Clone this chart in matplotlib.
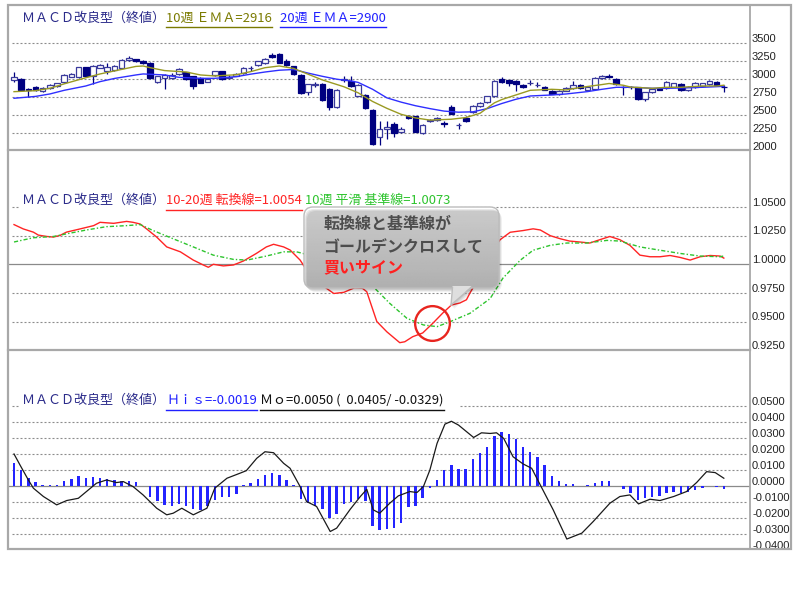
import numpy as np
import matplotlib
matplotlib.use("Agg")
import matplotlib.pyplot as plt
from matplotlib.patches import FancyBboxPatch, Polygon, Rectangle
from matplotlib.transforms import offset_copy

plt.rcParams['font.family'] = ['Noto Sans CJK JP', 'DejaVu Sans']

# weekly candles (100 weeks)
opens = [2990, 3000, 2870, 2890, 2840, 2880, 2905, 2960, 3035, 3030,
         3165, 3040, 3160, 3115, 3130, 3155, 3262, 3275, 3255, 3230,
         2965, 3010, 3015, 3075, 3095, 3040, 3015, 2965, 3055, 3110,
         3020, 3045, 3085, 3150, 3195, 3225, 3340, 3350, 3260, 3180,
         3060, 2820, 2920, 2930, 2870, 2615, 2995, 2980, 2770, 2780,
         2570, 2195, 2310, 2370, 2270, 2485, 2480, 2245, 2415, 2430,
         2385, 2615, 2355, 2460, 2545, 2620, 2680, 2760, 3005, 2985,
         2975, 2920, 2945, 2920, 2895, 2840, 2800, 2840, 2875, 2920,
         2845, 2860, 3010, 3050, 3000, 2890, 2895, 2890, 2725, 2815,
         2880, 2880, 2895, 2935, 2850, 2890, 2905, 2935, 2965, 2895]
highs = [3095, 3010, 2880, 2905, 2885, 2930, 2950, 3070, 3085, 3170,
         3175, 3195, 3210, 3220, 3195, 3280, 3320, 3285, 3265, 3240,
         3045, 3070, 3080, 3150, 3105, 3050, 3030, 3005, 3120, 3120,
         3060, 3080, 3165, 3185, 3255, 3295, 3365, 3365, 3275, 3190,
         3070, 2935, 2965, 2945, 2880, 2860, 3050, 3050, 2930, 2795,
         2580, 2420, 2420, 2400, 2330, 2500, 2490, 2370, 2440, 2475,
         2420, 2640, 2390, 2480, 2640, 2680, 2770, 2990, 3030, 2995,
         2990, 2935, 2985, 2960, 2905, 2850, 2850, 2885, 2975, 2930,
         2905, 3025, 3060, 3070, 3010, 2905, 2910, 2895, 2820, 2880,
         2895, 2970, 2950, 2945, 2905, 2960, 2950, 2990, 2975, 2920]
lows = [2960, 2840, 2755, 2830, 2825, 2870, 2895, 2950, 3030, 3020,
        3030, 2930, 3150, 3070, 3120, 3150, 3255, 3240, 3215, 3005,
        2945, 2870, 3005, 3065, 2990, 2865, 2940, 2955, 3045, 2990,
        3000, 3040, 3075, 3120, 3185, 3215, 3300, 3220, 3190, 3065,
        2800, 2780, 2895, 2700, 2570, 2600, 2960, 2890, 2760, 2580,
        2080, 2080, 2170, 2200, 2250, 2440, 2260, 2235, 2400, 2420,
        2330, 2510, 2300, 2400, 2530, 2610, 2670, 2750, 2950, 2905,
        2830, 2880, 2915, 2895, 2845, 2790, 2785, 2830, 2865, 2870,
        2835, 2850, 3000, 3020, 2925, 2780, 2870, 2710, 2695, 2805,
        2845, 2870, 2885, 2835, 2840, 2880, 2895, 2925, 2910, 2825]
closes = [3035, 2850, 2845, 2850, 2875, 2920, 2945, 3060, 3075, 3165,
          3040, 3185, 3195, 3165, 3180, 3270, 3295, 3250, 3225, 3015,
          3040, 3065, 3060, 3145, 3000, 2900, 2950, 3000, 3110, 3000,
          3025, 3070, 3160, 3160, 3250, 3285, 3305, 3225, 3195, 3070,
          2810, 2930, 2935, 2710, 2615, 2850, 3005, 2900, 2920, 2595,
          2090, 2310, 2330, 2255, 2310, 2455, 2270, 2360, 2430, 2465,
          2380, 2520, 2360, 2415, 2630, 2665, 2760, 2970, 2960, 2945,
          2935, 2890, 2950, 2925, 2855, 2795, 2835, 2875, 2920, 2880,
          2895, 3015, 3050, 3035, 2935, 2885, 2890, 2720, 2815, 2870,
          2850, 2960, 2940, 2845, 2895, 2950, 2940, 2970, 2920, 2890]

# 10-week / 20-week EMA (week, price)
ema10_x = [0, 3, 5, 7, 10, 12, 14, 17, 18, 19, 21, 24, 26, 28, 31, 33, 35, 37, 39, 41,
           43, 46, 48, 50, 52, 54, 56, 58, 61, 63, 65, 67, 68, 70, 72, 75, 77, 79, 82, 83,
           85, 86, 89, 91, 93, 96, 98, 99]
ema10_y = [2826, 2840, 2873, 2935, 3020, 3073, 3115, 3178, 3184, 3160, 3120, 3100, 3059, 3045,
           3062, 3105, 3160, 3184, 3150, 3070, 2990, 2895, 2810, 2690, 2594, 2510, 2460, 2430,
           2442, 2465, 2525, 2670, 2715, 2780, 2845, 2859, 2850, 2885, 2925, 2940, 2915, 2890,
           2873, 2887, 2887, 2905, 2905, 2916]
ema20_x = [0, 3, 5, 7, 10, 12, 14, 17, 18, 21, 23, 26, 28, 31, 33, 35, 37, 39, 41, 43,
           45, 47, 48, 50, 52, 54, 56, 58, 60, 62, 64, 66, 68, 70, 72, 75, 77, 80, 82, 84,
           86, 89, 91, 93, 96, 99]
ema20_y = [2734, 2760, 2794, 2845, 2905, 2966, 3010, 3059, 3073, 3059, 3026, 3012, 3012, 3035,
           3070, 3100, 3125, 3135, 3085, 3040, 3000, 2975, 2955, 2860, 2740, 2680, 2630, 2590,
           2555, 2540, 2545, 2590, 2660, 2720, 2766, 2780, 2794, 2827, 2859, 2887, 2887, 2873,
           2873, 2878, 2887, 2900]

# 10-20 week conversion line and its 10-week smoothed base line
conv_x = [0, 1.3, 2.7, 3.4, 4.6, 5.5, 6.4, 7.3, 9.2, 11.1, 12.0, 13.9, 15.7, 16.6, 17.6, 18.5,
          19.9, 21.3, 23.2, 25.0, 26.4, 27.1, 27.8, 29.2, 30.6, 32.0, 33.8, 35.2, 36.2, 37.6,
          38.5, 39.9, 40.8, 42.3, 43.8, 44.6, 46.0, 47.5, 48.6, 49.2, 49.9, 50.6, 52.0, 53.8,
          54.5, 55.6, 57.0, 58.4, 59.8, 61.0, 62.2, 63.1, 63.6, 65.0, 66.4, 67.8, 69.2, 71.0,
          72.4, 73.4, 74.8, 76.2, 77.5, 78.9, 80.3, 81.7, 83.1, 84.5, 85.9, 87.3, 88.7, 90.1,
          91.5, 92.9, 94.3, 95.7, 97.1, 98.5, 99.0]
conv_y = [1.0347, 1.0309, 1.0281, 1.0255, 1.0243, 1.0238, 1.0252, 1.0281, 1.0309, 1.0338,
          1.0367, 1.0358, 1.0375, 1.0367, 1.0352, 1.0309, 1.0238, 1.0152, 1.0109, 1.0037,
          0.9994, 0.9974, 1.0000, 0.9986, 0.9994, 1.0029, 1.0095, 1.0152, 1.0175, 1.0152,
          1.0125, 1.0037, 0.9950, 0.9850, 0.9780, 0.9745, 0.9755, 0.9795, 0.9790, 0.9760,
          0.9630, 0.9500, 0.9410, 0.9315, 0.9323, 0.9367, 0.9400, 0.9484, 0.9574, 0.9644,
          0.9662, 0.9690, 0.9750, 0.9900, 1.0095, 1.0215, 1.0280, 1.0295, 1.0310, 1.0300,
          1.0250, 1.0223, 1.0203, 1.0195, 1.0186, 1.0215, 1.0243, 1.0215, 1.0166, 1.0080,
          1.0066, 1.0066, 1.0077, 1.0060, 1.0037, 1.0066, 1.0077, 1.0072, 1.0054]
base_x = [0, 2.7, 5.5, 7.3, 10.1, 12.9, 15.7, 17.6, 19.4, 22.2, 25.0, 27.8, 30.6, 32.5, 35.2,
          37.6, 39.4, 40.3, 44.0, 47.5, 49.2, 50.1, 52.4, 54.8, 57.1, 59.0, 60.8, 63.6, 66.4,
          68.2, 70.6, 72.4, 74.8, 77.1, 79.9, 82.7, 84.5, 87.3, 90.1, 92.9, 95.7, 98.5, 99.0]
base_y = [1.0195, 1.0232, 1.0243, 1.0266, 1.0300, 1.0329, 1.0338, 1.0347, 1.0295, 1.0223,
          1.0152, 1.0080, 1.0043, 1.0037, 1.0072, 1.0109, 1.0109, 1.0095, 0.9990, 0.9880,
          0.9834, 0.9804, 0.9659, 0.9528, 0.9470, 0.9455, 0.9498, 0.9572, 0.9700, 0.9880,
          1.0035, 1.0123, 1.0166, 1.0186, 1.0186, 1.0209, 1.0203, 1.0152, 1.0123, 1.0095,
          1.0072, 1.0066, 1.0073]
cross_x, cross_y = 58.3, 0.9487

# histogram (conversion - base) and momentum
his = [0.0143, 0.0101, 0.0054, 0.0025, 0.0008, 0.0008, 0.0008, 0.0035, 0.0043, 0.0066,
       0.0054, 0.0060, 0.0054, 0.0043, 0.0039, 0.0035, 0.0035, 0.0025, 0.0002, -0.0064,
       -0.0095, -0.0116, -0.0126, -0.0110, -0.0126, -0.0143, -0.0147, -0.0126, -0.0085, -0.0068,
       -0.0064, -0.0048, 0.0008, 0.0019, 0.0043, 0.0070, 0.0085, 0.0070, 0.0039, 0.0008,
       -0.0081, -0.0106, -0.0126, -0.0143, -0.0199, -0.0172, -0.0110, -0.0101, -0.0081, -0.0095,
       -0.0246, -0.0271, -0.0267, -0.0260, -0.0226, -0.0130, -0.0126, -0.0075, -0.0012, 0.0039,
       0.0101, 0.0132, 0.0108, 0.0108, 0.0168, 0.0209, 0.0246, 0.0313, 0.0340, 0.0323,
       0.0292, 0.0246, 0.0215, 0.0180, 0.0132, 0.0064, 0.0035, 0.0012, 0.0012, 0.0000,
       0.0008, 0.0019, 0.0035, 0.0035, 0.0004, -0.0019, -0.0039, -0.0085, -0.0075, -0.0068,
       -0.0060, -0.0039, -0.0033, -0.0039, -0.0033, -0.0023, -0.0012, 0.0000, -0.0006, -0.0019]
mo_x = [0, 0.84, 2.0, 2.7, 4.1, 5.95, 7.35, 8.97, 10.1, 11.5, 12.9, 14.3, 15.25, 16.6, 18.0,
        19.9, 21.3, 22.2, 23.4, 25.0, 26.9, 28.0, 29.7, 31.5, 32.4, 33.85, 35.0, 36.2, 37.6,
        38.5, 39.9, 40.8, 42.2, 44.1, 45.0, 46.9, 48.3, 49.2, 50.1, 51.0, 52.4, 53.6, 55.2,
        56.2, 57.1, 58.0, 59.0, 60.1, 61.0, 62.0, 64.1, 65.2, 66.4, 67.3, 68.3, 69.6, 71.0,
        72.2, 73.4, 75.2, 77.1, 79.2, 80.8, 83.1, 84.5, 85.9, 87.1, 88.7, 90.1, 92.0, 93.8,
        95.2, 96.6, 97.8, 99.0]
mo_y = [0.0201, 0.0132, 0.0039, -0.0012, -0.0064, -0.0116, -0.0089, -0.0075, -0.0033, 0.0019,
        0.0039, 0.0023, 0.0029, -0.0002, -0.0054, -0.0137, -0.0178, -0.0168, -0.0137, -0.0178,
        -0.0137, -0.0012, 0.0050, 0.0081, 0.0097, 0.0174, 0.0215, 0.0209, 0.0143, 0.0112,
        -0.0002, -0.0095, -0.0126, -0.0282, -0.0261, -0.0143, -0.0064, -0.0019, -0.0147, -0.0168,
        -0.0106, -0.0060, -0.0033, -0.0039, -0.0002, 0.0101, 0.0267, 0.0387, 0.0405, 0.0381,
        0.0304, 0.0333, 0.0329, 0.0333, 0.0298, 0.0184, 0.0139, 0.0112, 0.0008, -0.0147,
        -0.0329, -0.0292, -0.0219, -0.0106, -0.0064, -0.0054, -0.0110, -0.0081, -0.0089, -0.0064,
        -0.0033, 0.0023, 0.0091, 0.0085, 0.0050]

price_ticks = [3500, 3250, 3000, 2750, 2500, 2250, 2000]
ratio_ticks = [1.05, 1.025, 1.0, 0.975, 0.95, 0.925]
osc_ticks = [0.05, 0.04, 0.03, 0.02, 0.01, 0.0, -0.01, -0.02, -0.03, -0.04]

NAVY = '#000080'
OLIVE = '#9a9a22'
BLUE = '#2f2fff'
RED = '#ff2424'
GREEN = '#2ec42e'
GRID = '#8c8c8c'
FRAME = '#a8a8a8'
TITLE = '#2b2b8a'

W, H = 800, 600
fig = plt.figure(figsize=(8, 6), dpi=100)


def px_rect(x0, y0, x1, y1):
    return [x0 / W, 1 - y1 / H, (x1 - x0) / W, (y1 - y0) / H]


ax_p = fig.add_axes(px_rect(8, 5, 750, 150))
ax_m = fig.add_axes(px_rect(8, 150, 750, 350))
ax_h = fig.add_axes(px_rect(8, 350, 750, 549))

for ax in (ax_p, ax_m, ax_h):
    ax.set_xlim(-0.84, 102.65)
    ax.set_axis_off()
ax_p.set_ylim(2013, 4034)
ax_m.set_ylim(0.9251, 1.0999)
ax_h.set_ylim(-0.0391, 0.0849)

dots = (0, (1.8, 1.8))
ax_p.hlines(price_ticks[:-1], -0.28, 102.2, colors=GRID, linestyles=dots, lw=0.8, zorder=1)
ax_m.hlines([1.05, 1.025, 0.975, 0.95], -0.28, 102.2, colors=GRID, linestyles=dots, lw=0.8, zorder=1)
ax_m.axhline(1.0, color='#8a8a8a', lw=0.9, zorder=1)
ax_h.hlines([t for t in osc_ticks if t not in (0.0, -0.04)], -0.28, 102.2,
            colors=GRID, linestyles=dots, lw=0.8, zorder=1)
ax_h.axhline(0.0, color='#8a8a8a', lw=0.9, zorder=1)

# candlesticks
wk = np.arange(len(closes))
o, c = np.array(opens), np.array(closes)
up = c >= o
lo = np.minimum(o, c)
hgt = np.maximum(np.abs(c - o), 4)
ax_p.vlines(wk, lows, highs, color=NAVY, lw=0.9, zorder=2)
ax_p.bar(wk[up], hgt[up], bottom=lo[up], width=0.78, facecolor='white',
         edgecolor='#3a3a9c', lw=0.9, zorder=3)
ax_p.bar(wk[~up], hgt[~up], bottom=lo[~up], width=0.78, facecolor=NAVY,
         edgecolor=NAVY, lw=0.9, zorder=3)
ax_p.plot(ema20_x, ema20_y, color=BLUE, lw=1.0, zorder=4)
ax_p.plot(ema10_x, ema10_y, color=OLIVE, lw=1.0, zorder=4)

# conversion / base lines
ax_m.plot(conv_x, conv_y, color=RED, lw=1.0, zorder=3)
ax_m.plot(base_x, base_y, color=GREEN, lw=1.0, ls=(0, (3, 1.5, 1, 1.5)), zorder=3)
ax_m.plot([cross_x], [cross_y], 'o', ms=25, mfc='none', mec='#e8251f', mew=1.7,
          zorder=6, clip_on=False)

# histogram + momentum
ax_h.bar(wk, his, width=0.34, color='#2424ff', zorder=2)
ax_h.plot(mo_x, mo_y, color='#1a1a1a', lw=0.9, zorder=3)

# right-hand scale labels, sitting just above their gridlines
for ax, ticks, fmt in ((ax_p, price_ticks, '{:.0f}'), (ax_m, ratio_ticks, '{:.4f}'),
                       (ax_h, osc_ticks, '{:.4f}')):
    tr = offset_copy(ax.get_yaxis_transform(), fig=fig, x=0, y=1.2, units='dots')
    for t in ticks:
        ax.text(1.0027, t, fmt.format(t + 0.0), transform=tr, ha='left', va='baseline',
                fontsize=8.0, color='#222222', family=['Liberation Sans', 'DejaVu Sans'])

# overlay in pixel coordinates for frames, legends and the callout
ov = fig.add_axes([0, 0, 1, 1], zorder=10)
ov.set_xlim(0, W)
ov.set_ylim(H, 0)
ov.set_axis_off()

ov.add_patch(Rectangle((8, 5), 783, 544, fill=False, ec=FRAME, lw=1.6))
ov.plot([750, 750], [5, 549], color=FRAME, lw=1.3)
ov.plot([8, 750], [150, 150], color=FRAME, lw=1.6)
ov.plot([8, 750], [350, 350], color=FRAME, lw=1.6)

# white strips behind legend rows
ov.add_patch(Rectangle((19, 196), 440, 13, fc='white', ec='none'))
ov.add_patch(Rectangle((19, 395), 440, 13, fc='white', ec='none'))

renderer = fig.canvas.get_renderer()


def legend_row(y, parts):
    for x, s, color, underline in parts:
        t = ov.text(x, y, s, color=color, fontsize=9.4, ha='left', va='center')
        if underline:
            bb = t.get_window_extent(renderer)
            ov.plot([bb.x0, bb.x1], [y + 9, y + 9], color=color, lw=1.0)


title = 'ＭＡＣＤ改良型（終値）'
legend_row(18, [(22, title, TITLE, False),
                (166, f'10週 ＥＭＡ={ema10_y[-1]}', '#7a7a00', True),
                (280, f'20週 ＥＭＡ={ema20_y[-1]}', '#2020ff', True)])
legend_row(200.5, [(22, title, TITLE, False),
                   (166, f'10-20週 転換線={conv_y[-1]:.4f}', RED, True),
                   (305, f'10週 平滑 基準線={base_y[-1]:.4f}', GREEN, False)])
legend_row(400.5, [(22, title, TITLE, False),
                   (166, f'Ｈｉｓ={his[-1]:.4f}', '#2020ff', True),
                   (260, f'Ｍｏ={mo_y[-1]:.4f} (  {max(mo_y):.4f}/ {min(mo_y):.4f})', '#111111', True)])

# callout bubble
bx0, by0, bx1, by1 = 304, 207, 499, 288
tail = [(452.5, 286), (471.5, 286), (451, 305)]
for dx, dy, a in ((3, 4, 0.06), (2, 3, 0.08), (1, 2, 0.08)):
    ov.add_patch(FancyBboxPatch((bx0 + dx, by0 + dy), bx1 - bx0, by1 - by0,
                                boxstyle='round,pad=0,rounding_size=9',
                                fc='black', ec='none', alpha=a))
    ov.add_patch(Polygon([(px + dx, py + dy) for px, py in tail], fc='black', ec='none', alpha=a))
clip = FancyBboxPatch((bx0, by0), bx1 - bx0, by1 - by0,
                      boxstyle='round,pad=0,rounding_size=9', transform=ov.transData)
grad = np.linspace(1.0, 0.87, 64)[:, None]
im = ov.imshow(grad, cmap='gray', vmin=0, vmax=1, extent=(bx0, bx1, by1, by0),
               aspect='auto', interpolation='bilinear')
im.set_clip_path(clip)
ov.add_patch(FancyBboxPatch((bx0, by0), bx1 - bx0, by1 - by0,
                            boxstyle='round,pad=0,rounding_size=9',
                            fc='none', ec='#bcbcbc', lw=1.0))
ov.add_patch(Polygon(tail, fc='#dedede', ec='none'))
ov.plot([452.5, 451], [287.5, 305], color='#bcbcbc', lw=1.0)
ov.plot([471.5, 451], [287.5, 305], color='#bcbcbc', lw=1.0)
ov.set_xlim(0, W)
ov.set_ylim(H, 0)

for y, s, color in ((224, '転換線と基準線が', '#4d4d4d'),
                    (247.5, 'ゴールデンクロスして', '#4d4d4d'),
                    (267.5, '買いサイン', '#ff2020')):
    ov.text(323, y, s, color=color, fontsize=11.5, fontweight='bold', ha='left', va='center')

fig.savefig('out.png', dpi=100, facecolor='white')
